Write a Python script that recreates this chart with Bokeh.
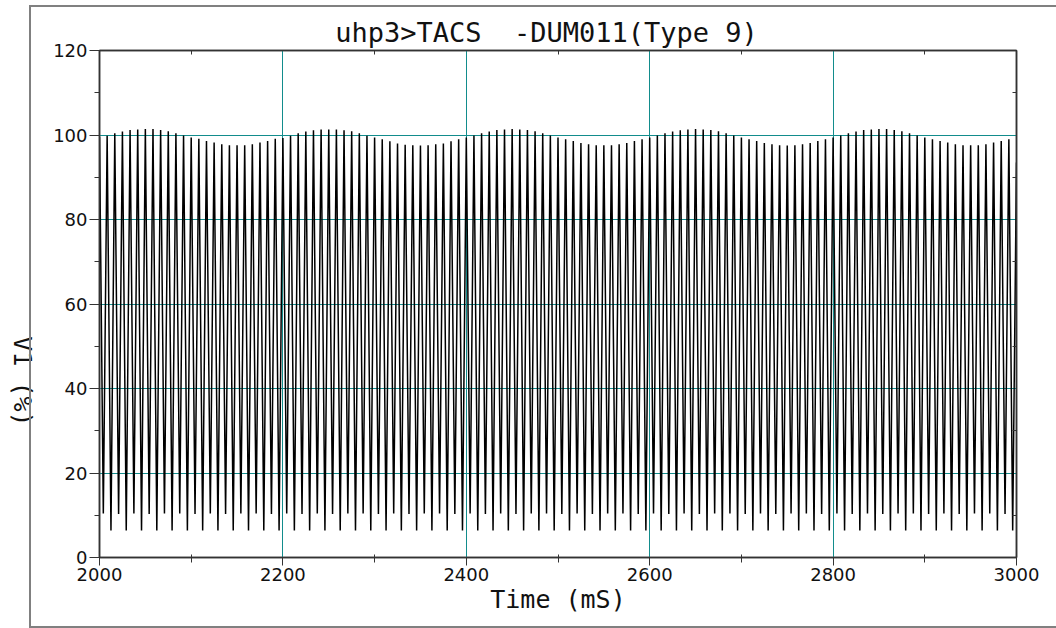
import math

from bokeh.embed import file_html
from bokeh.models import FixedTicker, Label, LinearAxis, Range1d
from bokeh.plotting import figure
from bokeh.resources import INLINE

# ---- texts ----
title_text = "uhp3>TACS\u00a0\u00a0-DUM011(Type 9)"
x_label = "Time (mS)"
y_label = "V1 (%)"

# ---- signal: V1 (%) sampled at every crest and valley, 120 cycles/s ----
t_start = 2000.0
t_end = 3000.0
cycles_per_second = 120

peak_values = [
    99.6, 99.8, 100.4, 100.8, 101.2, 101.3, 101.4, 101.4, 101.2, 100.9, 100.4, 99.9,
    99.4, 99.1, 98.6, 98.2, 97.8, 97.6, 97.6, 97.6, 97.8, 98.2, 98.6, 99.1,
    99.3, 99.8, 100.4, 100.8, 101.1, 101.3, 101.3, 101.3, 101.1, 100.9, 100.4, 99.8,
    99.4, 99.0, 98.5, 98.0, 97.7, 97.6, 97.5, 97.6, 97.8, 98.0, 98.5, 99.0,
    99.4, 99.9, 100.4, 100.8, 101.2, 101.3, 101.4, 101.3, 101.2, 100.9, 100.4, 99.9,
    99.4, 99.0, 98.6, 98.1, 97.8, 97.6, 97.6, 97.6, 97.8, 98.1, 98.6, 99.0,
    99.4, 99.9, 100.4, 100.8, 101.1, 101.3, 101.4, 101.3, 101.2, 100.9, 100.4, 99.9,
    99.4, 99.0, 98.6, 98.1, 97.8, 97.6, 97.5, 97.6, 97.8, 98.1, 98.6, 99.0,
    99.4, 99.9, 100.4, 100.8, 101.2, 101.3, 101.4, 101.4, 101.2, 100.9, 100.4, 99.9,
    99.4, 99.0, 98.6, 98.2, 97.8, 97.6, 97.6, 97.6, 97.8, 98.2, 98.6, 99.0,
]
trough_values = [
    10.4, 6.4, 10.3, 6.4, 10.4, 6.4, 10.3, 6.4, 10.4, 6.4, 10.4, 6.4,
    10.3, 6.4, 10.4, 6.4, 10.3, 6.4, 10.4, 6.4, 10.4, 6.4, 10.3, 6.4,
    10.4, 6.4, 10.3, 6.4, 10.4, 6.4, 10.3, 6.4, 10.4, 6.4, 10.4, 6.4,
    10.3, 6.4, 10.4, 6.4, 10.3, 6.4, 10.4, 6.4, 10.4, 6.4, 10.3, 6.4,
    10.4, 6.4, 10.3, 6.4, 10.4, 6.4, 10.3, 6.4, 10.4, 6.4, 10.4, 6.4,
    10.3, 6.4, 10.4, 6.4, 10.3, 6.4, 10.4, 6.4, 10.4, 6.4, 10.3, 6.4,
    10.4, 6.4, 10.3, 6.4, 10.4, 6.4, 10.3, 6.4, 10.4, 6.4, 10.4, 6.4,
    10.3, 6.4, 10.4, 6.4, 10.3, 6.4, 10.4, 6.4, 10.4, 6.4, 10.3, 6.4,
    10.4, 6.4, 10.3, 6.4, 10.4, 6.4, 10.3, 6.4, 10.4, 6.4, 10.4, 6.4,
    10.3, 6.4, 10.4, 6.4, 10.3, 6.4, 10.4, 6.4, 10.4, 6.4, 10.3, 6.4,
]
end_value = 93.5

# ---- axis ticks ----
x_major = [2000, 2200, 2400, 2600, 2800, 3000]
x_minor = [2100, 2300, 2500, 2700, 2900]
y_major = [0, 20, 40, 60, 80, 100, 120]
y_minor = [10, 30, 50, 70, 90, 110]
x_grid = [2200, 2400, 2600, 2800]
y_grid = [20, 40, 60, 80, 100]

# crest at the start of each cycle, valley half a cycle later
cycle_ms = 1000.0 / cycles_per_second
times, volts = [], []
for k, (pk, tr) in enumerate(zip(peak_values, trough_values)):
    times += [t_start + k * cycle_ms, t_start + (k + 0.5) * cycle_ms]
    volts += [pk, tr]
times.append(t_end)
volts.append(end_value)

FRAME = "#333333"
GRID = "#128c8c"
TEXT = "#111111"

p = figure(
    width=1056, height=628, title=None,
    x_range=Range1d(2000, 3000), y_range=Range1d(0, 120),
    output_backend="svg", toolbar_location=None,
    min_border_left=99, min_border_right=40, min_border_top=50, min_border_bottom=71,
    background_fill_color="white", border_fill_color="white",
)
# grey page edge drawn over the canvas (left, top and bottom sides visible)
p.stylesheets = ["""
:host { position: relative; overflow: hidden; }
:host::after {
  content: "";
  position: absolute;
  left: 29px; top: 5px; width: 1100px; height: 623px;
  box-sizing: border-box;
  border: 2px solid #808080;
  pointer-events: none;
  z-index: 10;
}
"""]
p.outline_line_color = FRAME
p.outline_line_width = 1.5

# grid: teal lines only at interior majors
p.xgrid[0].ticker = FixedTicker(ticks=x_grid)
p.ygrid[0].ticker = FixedTicker(ticks=y_grid)
for g in (p.xgrid[0], p.ygrid[0]):
    g.grid_line_color = GRID
    g.grid_line_width = 1
    g.grid_line_alpha = 1.0

p.line(times, volts, line_color="black", line_width=1.5)

xa = p.xaxis[0]
xa.ticker = FixedTicker(ticks=x_major, minor_ticks=x_minor)
xa.major_tick_in, xa.major_tick_out = 0, 8
xa.minor_tick_in, xa.minor_tick_out = 3, 5
xa.major_label_standoff = 2
xa.axis_label = x_label
xa.axis_label_standoff = 1

ya = p.yaxis[0]
ya.ticker = FixedTicker(ticks=y_major, minor_ticks=y_minor)
ya.major_tick_in, ya.major_tick_out = 0, 10
ya.minor_tick_in, ya.minor_tick_out = 0, 5
ya.major_label_standoff = 2

for ax in (xa, ya):
    ax.axis_line_color = FRAME
    ax.axis_line_width = 1.5
    ax.major_tick_line_color = FRAME
    ax.minor_tick_line_color = FRAME
    ax.major_label_text_font = "DejaVu Sans"
    ax.major_label_text_font_size = "18px"
    ax.major_label_text_color = TEXT
    ax.axis_label_text_font = "DejaVu Sans Mono"
    ax.axis_label_text_font_size = "25px"
    ax.axis_label_text_font_style = "normal"
    ax.axis_label_text_color = TEXT

top = LinearAxis(ticker=FixedTicker(ticks=[], minor_ticks=x_minor))
right = LinearAxis(ticker=FixedTicker(ticks=[], minor_ticks=y_minor))
for ax in (top, right):
    ax.axis_line_color = FRAME
    ax.axis_line_width = 1.5
    ax.major_tick_in = ax.major_tick_out = 0
    ax.minor_tick_in, ax.minor_tick_out = 4, 0
    ax.minor_tick_line_color = FRAME
    ax.major_label_standoff = 0
p.add_layout(top, "above")
p.add_layout(right, "right")

# chart title in the top margin
p.add_layout(Label(
    x=546, y=32, x_units="canvas", y_units="canvas", text=title_text,
    text_align="center", text_baseline="alphabetic",
    text_font="DejaVu Sans Mono", text_font_size="27px", text_color=TEXT,
), "above")

# y-axis title in the left margin, reading top to bottom
p.add_layout(Label(
    x=22, y=381, x_units="canvas", y_units="canvas", text=y_label,
    angle=-math.pi / 2, text_align="center", text_baseline="middle",
    text_font="DejaVu Sans Mono", text_font_size="25px", text_color=TEXT,
), "left")

open("out.html", "w").write(file_html(p, INLINE))
